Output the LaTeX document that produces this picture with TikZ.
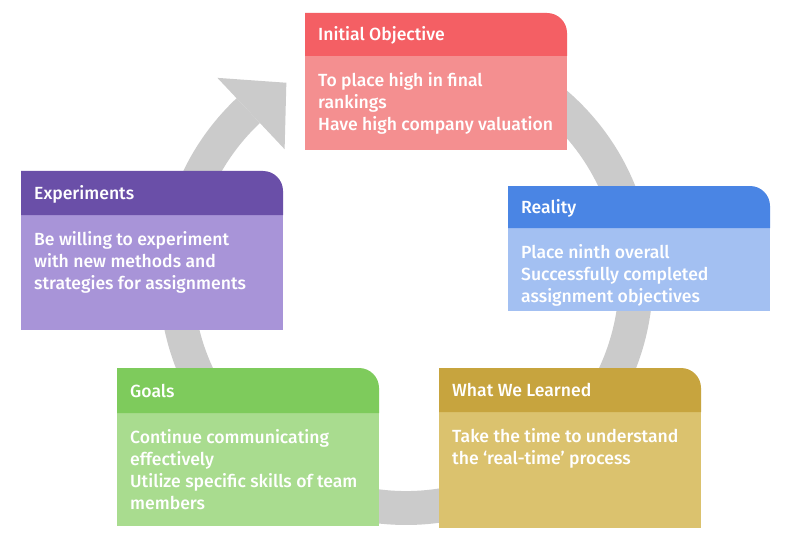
\documentclass[tikz,border=0pt]{standalone}
\usepackage{fontspec}
\setmainfont{Fira Sans}[UprightFont=* Medium]
\definecolor{ringgray}{HTML}{CBCBCB}
\definecolor{redhead}{HTML}{F45F64}
\definecolor{redbody}{HTML}{F48F90}
\definecolor{bluehead}{HTML}{4A85E4}
\definecolor{bluebody}{HTML}{A3C0F2}
\definecolor{purplehead}{HTML}{6A4FA8}
\definecolor{purplebody}{HTML}{A894D8}
\definecolor{greenhead}{HTML}{7ECB5C}
\definecolor{greenbody}{HTML}{A9DC8F}
\definecolor{goldhead}{HTML}{C7A43E}
\definecolor{goldbody}{HTML}{DBC26E}
\newcommand{\cardfont}{\fontsize{17.6pt}{22pt}\selectfont}
\tikzset{
  ringfill/.style={fill=ringgray},
  cardtitle/.style={anchor=base west, inner sep=0pt, text=white, font=\cardfont},
  cardbody/.style={anchor=north west, inner sep=0pt, text=white, align=left, font=\cardfont},
}
% #1 name, #2 left x, #3 top y, #4 header bottom y, #5 bottom y,
% #6 header colour, #7 body colour, #8 title, #9 body text
\newcommand{\stagecard}[9]{%
  \fill[#7] (#2,#5) rectangle (#2+262,#4);
  \fill[#6] (#2,#4) -- (#2,#3) -- (#2+242,#3)
    arc[start angle=90, end angle=0, radius=20pt] -- (#2+262,#4) -- cycle;
  \node[cardtitle] (#1-title) at (#2+13,{(#3+#4)/2-6.5}) {#8};
  \node[cardbody] (#1-body) at (#2+13,#4-30+15.4) {\strut#9};
}
\begin{document}
\begin{tikzpicture}[x=1pt,y=1pt]
\useasboundingbox (0,0) rectangle (794,539);
\fill[white] (0,0) rectangle (794,539);

% circular arrow behind the cards
\begin{scope}[shift={(406,261)}]
  \fill[ringfill] (133.3:247pt) arc[start angle=133.3, end angle=470, radius=247pt]
    -- (470:213pt) arc[start angle=470, end angle=133.3, radius=213pt] -- cycle;
  \fill[ringfill] (133.3:275pt) -- (121.5:229pt) -- (133.3:177pt) -- cycle;
\end{scope}

\stagecard{objective}{305}{526}{483}{389}{redhead}{redbody}
  {Initial Objective}{To place high in final\\rankings\\Have high company valuation}
\stagecard{reality}{508}{353}{311}{228}{bluehead}{bluebody}
  {Reality}{Place ninth overall\\Successfully completed\\assignment objectives}
\stagecard{experiments}{21}{368}{324}{209}{purplehead}{purplebody}
  {Experiments}{Be willing to experiment\\with new methods and\\strategies for assignments}
\stagecard{goals}{117}{171}{126}{13}{greenhead}{greenbody}
  {Goals}{Continue communicating\\effectively\\Utilize specific skills of team\\members}
\stagecard{learned}{439}{171}{127}{11}{goldhead}{goldbody}
  {What We Learned}{Take the time to understand\\the ‘real-time’ process}
\end{tikzpicture}
\end{document}
